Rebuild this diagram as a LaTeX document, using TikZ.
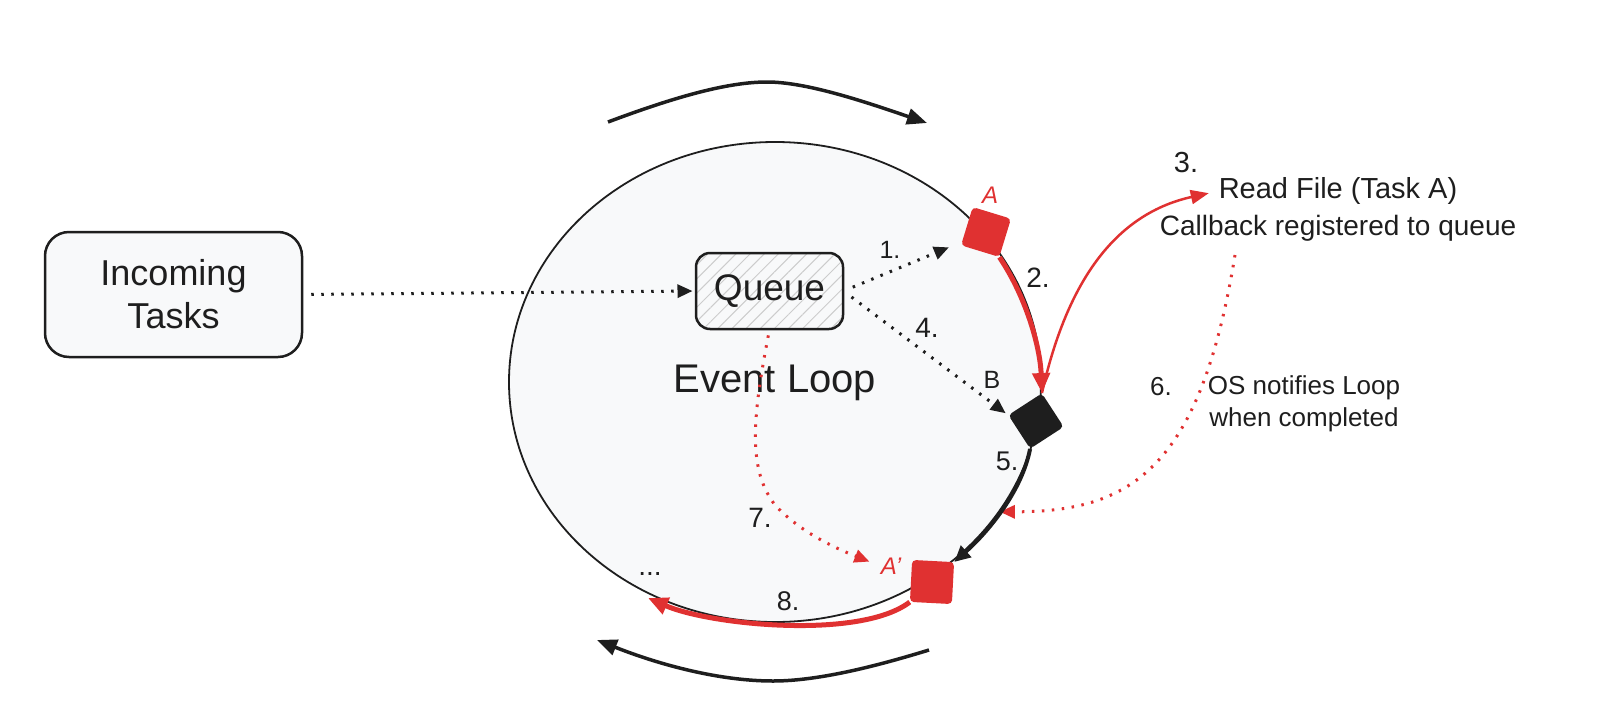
\documentclass[tikz,border=0pt]{standalone}
\usepackage{fontspec}
\setmainfont{Liberation Sans}
\usetikzlibrary{arrows.meta,shapes.geometric,patterns.meta}
\definecolor{exred}{HTML}{E03131}
\definecolor{exblack}{HTML}{1E1E1E}
\definecolor{exfill}{HTML}{F8F9FA}
\begin{document}
\begin{tikzpicture}[x=1pt,y=-1pt,
  every node/.style={inner sep=0pt, text=exblack},
  fs/.style={font=\fontsize{#1pt}{#1pt}\selectfont},
  sq/.style={minimum size=40pt, rounded corners=4pt, draw=none},
  dotline/.style={line width=3pt, dash pattern=on 2.5pt off 7.5pt},
  dtip/.style={-{Triangle[length=15pt,width=13pt]}},
  bigtip/.style={-{Triangle[length=20pt,width=17pt]}},
  thickred/.style={draw=exred, line width=5pt},
  sweep/.style={draw=exblack, line width=3.5pt, -{Triangle[length=20pt,width=16pt]}}
]
\useasboundingbox (0,0) rectangle (1600,707);

% main loop
\node[draw=exblack, line width=1.8pt, fill=exfill, ellipse,
      minimum width=532pt, minimum height=480pt] (evloop) at (775,382) {};

% boxes
\node[draw=exblack, line width=2.5pt, fill=exfill, rounded corners=24pt,
      minimum width=257pt, minimum height=125pt, align=center,
      font=\fontsize{36pt}{43pt}\selectfont] (inc) at (173.5,294.5) {Incoming\\Tasks};
\node[draw=exblack, line width=2.5pt, rounded corners=14pt,
      minimum width=147pt, minimum height=76pt,
      pattern={Lines[angle=45,distance=10pt,line width=1pt]}, pattern color=gray!40,
      fs=37] (queue) at (769.5,291) {Queue};
\node[fs=40] (evt) at (775,383) {Event Loop};

% squares on the loop
\node[sq, fill=exred, rotate=-17] (sqA) at (986,232) {};
\node[sq, fill=exblack, rotate=-57] (sqB) at (1036,421) {};
\node[sq, fill=exred, rotate=-3, minimum size=42pt] (sqAp) at (932,582) {};

% labels
\node[fs=24, text=exred] (lA) at (990,195) {\itshape A};
\node[fs=25] (lB) at (992,380) {B};
\node[fs=24, text=exred] (lAp) at (891,566) {\itshape A'};
\node[fs=25] (n1) at (890,250) {1.};
\node[fs=28] (n2) at (1038,278) {2.};
\node[fs=29] (n3) at (1186,163) {3.};
\node[fs=28] (n4) at (927,328) {4.};
\node[fs=27] (n5) at (1007,461) {5.};
\node[fs=26] (n6) at (1161,387) {6.};
\node[fs=28] (n7) at (760,518) {7.};
\node[fs=27] (n8) at (788,601) {8.};
\node[fs=28] (dots) at (650,574) {...};

\node[fs=29] (rf) at (1338,191) {Read File (Task A)};
\node[fs=28] (cb) at (1338,228) {Callback registered to queue};
\node[align=center, font=\fontsize{26pt}{32pt}\selectfont] (os) at (1304,404) {OS notifies Loop\\when completed};

% free ends
\coordinate (c6) at (1235,255);
\coordinate (c8) at (648,598);
\coordinate (t1) at (608,122);
\coordinate (t2) at (927,123);
\coordinate (b1) at (929,650);
\coordinate (b2) at (597,640);

% dotted connectors
\draw[exblack, dotline, dtip, shorten <=8pt, shorten >=3pt] (inc.east) -- (queue.west);
\draw[exblack, dotline, dtip, shorten <=10pt, shorten >=14pt] (queue.east) -- (sqA);
\draw[exblack, dotline, dtip, shorten <=10pt, shorten >=3pt] (queue.east) -- (sqB.south west);
\draw[exred, dotline, dtip] (c6) .. controls (1200,470) and (1130,512) .. (evloop.330);
\draw[exred, dotline, dtip, shorten <=6pt, shorten >=12pt] (queue.south)
   .. controls (752,420) and (748,470) .. (775,505)
   .. controls (800,532) and (835,548) .. (lAp.west);

% solid connectors
\draw[thickred, bigtip] (sqA.south east) .. controls (1025,295) and (1040,345) .. (sqB.north west);
\draw[exred, line width=2.5pt, -{Triangle[length=18pt,width=14pt]}, shorten >=10pt]
   (sqB.north west) .. controls (1065,290) and (1110,215) .. (rf.west);
\draw[exblack, line width=4pt, -{Triangle[length=16pt,width=15pt]}]
   (sqB.south east) .. controls (1022,490) and (990,530) .. (sqAp.north east);
\draw[thickred, bigtip] (sqAp.south west) .. controls (860,640) and (710,625) .. (c8);

% rotation sweeps
\draw[sweep] (t1) .. controls (680,95) and (730,82) .. (767,82)
   .. controls (805,82) and (860,100) .. (t2);
\draw[sweep] (b1) .. controls (880,665) and (820,681) .. (773,681)
   .. controls (720,681) and (660,665) .. (b2);
\end{tikzpicture}
\end{document}
